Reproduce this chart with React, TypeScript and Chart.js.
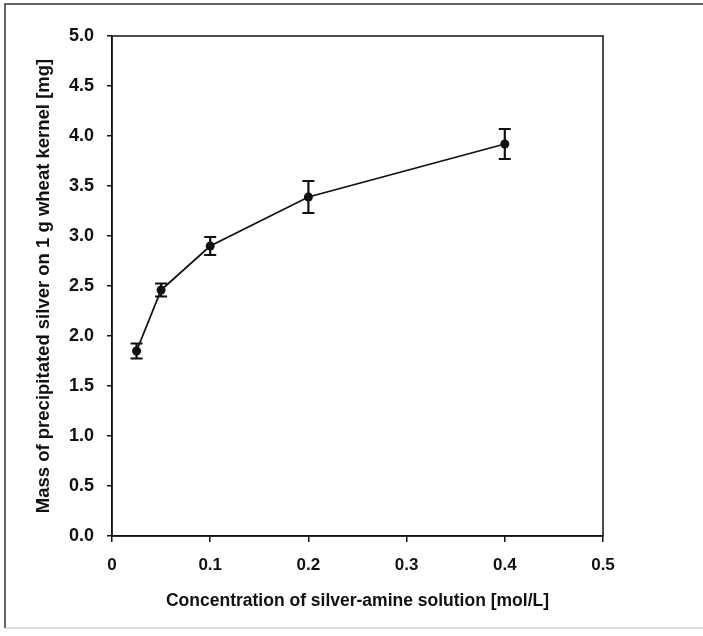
import React, { useEffect, useRef } from "react";
import { Chart, registerables } from "chart.js";

Chart.register(...registerables);

const concentrations = [0.025, 0.05, 0.1, 0.2, 0.4];
const silverMass = [1.85, 2.46, 2.9, 3.39, 3.92];
const silverErr = [0.075, 0.065, 0.09, 0.16, 0.15];

const xTitle = "Concentration of silver-amine solution [mol/L]";
const yTitle = "Mass of precipitated silver on 1 g wheat kernel [mg]";

const FONT = "'Liberation Sans', Arial, Helvetica, sans-serif";

const framePlugin = {
  id: "frame",
  beforeDraw(chart: any) {
    const { ctx } = chart;
    ctx.save();
    ctx.fillStyle = "#ffffff";
    ctx.fillRect(0, 0, chart.width, chart.height);
    ctx.strokeStyle = "#333333";
    ctx.lineWidth = 1.5;
    ctx.beginPath();
    ctx.moveTo(703, 4);
    ctx.lineTo(5, 4);
    ctx.lineTo(5, 628);
    ctx.stroke();
    ctx.strokeStyle = "#bbbbbb";
    ctx.lineWidth = 1;
    ctx.beginPath();
    ctx.moveTo(5, 628);
    ctx.lineTo(703, 628);
    ctx.stroke();
    ctx.restore();
  },
  afterDraw(chart: any) {
    const { ctx, chartArea } = chart;
    ctx.save();
    ctx.strokeStyle = "#111111";
    ctx.lineWidth = 1.5;
    ctx.strokeRect(chartArea.left, chartArea.top, chartArea.right - chartArea.left, chartArea.bottom - chartArea.top);
    ctx.restore();
  },
};

const errorBarPlugin = {
  id: "errorBars",
  afterDatasetsDraw(chart: any) {
    const { ctx, scales } = chart;
    const xs = scales.x;
    const ys = scales.y;
    ctx.save();
    ctx.strokeStyle = "#111111";
    ctx.lineWidth = 2.2;
    concentrations.forEach((c, i) => {
      const px = xs.getPixelForValue(c);
      const top = ys.getPixelForValue(silverMass[i] + silverErr[i]);
      const bot = ys.getPixelForValue(silverMass[i] - silverErr[i]);
      ctx.beginPath();
      ctx.moveTo(px, top);
      ctx.lineTo(px, bot);
      ctx.moveTo(px - 6, top);
      ctx.lineTo(px + 6, top);
      ctx.moveTo(px - 6, bot);
      ctx.lineTo(px + 6, bot);
      ctx.stroke();
    });
    ctx.restore();
  },
};

export default function App() {
  const ref = useRef<HTMLCanvasElement | null>(null);
  useEffect(() => {
    if (!ref.current) return;
    const chart = new Chart(ref.current, {
      type: "scatter",
      data: {
        datasets: [
          {
            data: concentrations.map((c, i) => ({ x: c, y: silverMass[i] })),
            showLine: true,
            borderColor: "#111111",
            borderWidth: 1.8,
            backgroundColor: "#111111",
            pointRadius: 4.5,
            pointBorderWidth: 0,
            tension: 0,
          },
        ],
      },
      plugins: [framePlugin, errorBarPlugin],
      options: {
        animation: false,
        responsive: false,
        maintainAspectRatio: false,
        layout: { padding: { left: 0, right: 100, top: 36, bottom: 0 } },
        plugins: { legend: { display: false }, tooltip: { enabled: false } },
        scales: {
          x: {
            type: "linear",
            min: 0,
            max: 0.5,
            afterFit: (s: any) => { s.height = 100; },
            ticks: {
              stepSize: 0.1,
              color: "#111111",
              font: { family: FONT, size: 17, weight: "bold" },
              padding: 13,
              maxRotation: 0,
              callback: (v: any) => (v === 0 ? "0" : Number(v).toFixed(1)),
            },
            grid: { drawOnChartArea: false, drawTicks: true, tickLength: 6, color: "#111111", lineWidth: 1.5 },
            border: { display: true, color: "#111111", width: 1.5 },
            title: {
              display: true,
              text: xTitle,
              color: "#111111",
              font: { family: FONT, size: 17.5, weight: "bold" },
              padding: { top: 0, bottom: 24 },
            },
          },
          y: {
            type: "linear",
            min: 0,
            max: 5,
            afterFit: (s: any) => { s.width = 112; },
            ticks: {
              stepSize: 0.5,
              color: "#111111",
              font: { family: FONT, size: 18, weight: "bold" },
              padding: 13,
              callback: (v: any) => Number(v).toFixed(1),
            },
            grid: { drawOnChartArea: false, drawTicks: true, tickLength: 5, color: "#111111", lineWidth: 1.5 },
            border: { display: true, color: "#111111", width: 1.5 },
            title: {
              display: true,
              text: yTitle,
              color: "#111111",
              font: { family: FONT, size: 18.5, weight: "bold" },
              padding: { top: 33, bottom: 0 },
            },
          },
        },
      },
    });
    return () => chart.destroy();
  }, []);
  return (
    <div style={{ position: "fixed", left: 0, top: 0, width: 703, height: 636, background: "#fff" }}>
      <canvas ref={ref} width={703} height={636} style={{ display: "block" }} />
    </div>
  );
}
